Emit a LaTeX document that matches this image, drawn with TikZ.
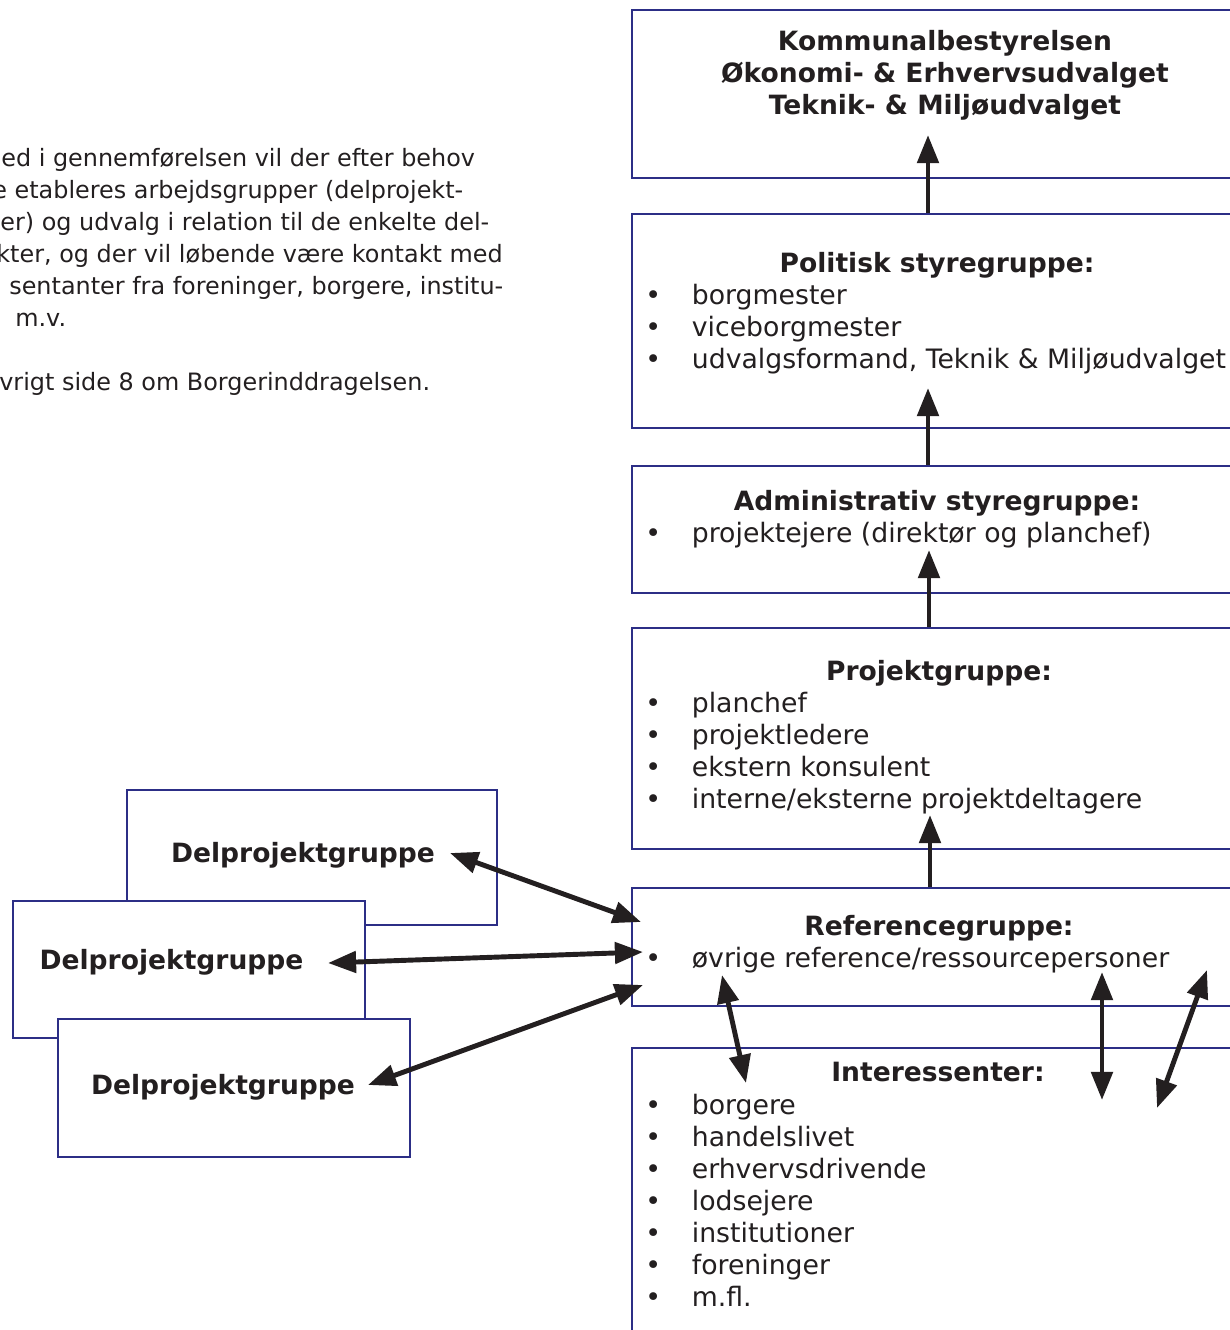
\documentclass[tikz,border=0pt]{standalone}
\usepackage{fontspec}
\setmainfont{DejaVu Sans}
\usetikzlibrary{arrows.meta}
\definecolor{ink}{RGB}{35,31,32}
\definecolor{boxblue}{RGB}{44,46,134}

\begin{document}
\begin{tikzpicture}[
    panel/.style={draw=boxblue,line width=1.3pt,fill=white,anchor=center,inner sep=0pt},
    heading/.style={anchor=base,inner sep=0pt,text=ink,font=\fontsize{15.1}{18}\selectfont\bfseries},
    entry/.style={anchor=base west,inner sep=0pt,text=ink,font=\fontsize{15.2}{18}\selectfont,
      execute at begin node={\makebox[0.93cm][l]{•}}},
    para/.style={anchor=base west,inner sep=0pt,text=ink,font=\fontsize{13.6}{16}\selectfont},
    link/.style={-{Triangle[length=16pt,width=12pt]},line width=2.8pt,ink},
    twoway/.style={{Triangle[length=16pt,width=12pt]}-{Triangle[length=16pt,width=12pt]},line width=2.8pt,ink},
]
\useasboundingbox (0,0) rectangle (24.58,-26.6);

\node[para] (par1) at (0.02,-3.33) {ed i gennemførelsen vil der efter behov};
\node[para] (par2) at (-0.16,-3.97) {e etableres arbejdsgrupper (delprojekt-};
\node[para] (par3) at (0.00,-4.61) {er) og udvalg i relation til de enkelte del-};
\node[para] (par4) at (-0.08,-5.25) {kter, og der vil løbende være kontakt med};
\node[para] (par5) at (0.18,-5.89) {sentanter fra foreninger, borgere, institu-};
\node[para] (par6) at (0.30,-6.53) {m.v.};
\node[para] (par7) at (-0.02,-7.81) {vrigt side 8 om Borgerinddragelsen.};

\node[panel,minimum width=12.24cm,minimum height=3.36cm] (kommune)     at (18.76,-1.88) {};
\node[panel,minimum width=12.24cm,minimum height=4.28cm] (politisk)    at (18.76,-6.42) {};
\node[panel,minimum width=12.24cm,minimum height=2.54cm] (admin)       at (18.76,-10.59) {};
\node[panel,minimum width=12.24cm,minimum height=4.42cm] (projekt)     at (18.76,-14.77) {};
\node[panel,minimum width=12.24cm,minimum height=2.36cm] (reference)   at (18.76,-18.94) {};
\node[panel,minimum width=12.24cm,minimum height=6.08cm] (interessent) at (18.76,-24.00) {};

\node[heading] (kommune-t1) at (18.9,-1.01) {Kommunalbestyrelsen};
\node[heading] (kommune-t2) at (18.9,-1.65) {Økonomi- \& Erhvervsudvalget};
\node[heading] (kommune-t3) at (18.9,-2.29) {Teknik- \& Miljøudvalget};

\node[heading] (politisk-t) at (18.74,-5.45) {Politisk styregruppe:};
\foreach \t [count=\i] in {borgmester,viceborgmester,{udvalgsformand, Teknik \& Miljøudvalget}}
  \node[entry] (politisk-\i) at (12.9,{-5.45-0.64*\i}) {\t};

\node[heading] (admin-t) at (18.74,-10.21) {Administrativ styregruppe:};
\node[entry] (admin-1) at (12.9,-10.85) {projektejere (direktør og planchef)};

\node[heading] (projekt-t) at (18.78,-13.61) {Projektgruppe:};
\foreach \t [count=\i] in {planchef,projektledere,ekstern konsulent,interne/eksterne projektdeltagere}
  \node[entry] (projekt-\i) at (12.9,{-13.61-0.64*\i}) {\t};

\node[heading] (reference-t) at (18.78,-18.71) {Referencegruppe:};
\node[entry] (reference-1) at (12.9,-19.35) {øvrige reference/ressourcepersoner};

\node[heading] (interessent-t) at (18.76,-21.63) {Interessenter:};
\foreach \t [count=\i] in {borgere,handelslivet,erhvervsdrivende,lodsejere,institutioner,foreninger,m.fl.}
  \node[entry] (interessent-\i) at (12.9,{-21.65-0.64*\i}) {\t};

\node[panel,minimum width=7.40cm,minimum height=2.70cm] (delA) at (6.24,-17.15) {};
\node[heading] (delA-t) at (6.06,-17.25) {Delprojektgruppe};
\node[panel,minimum width=7.04cm,minimum height=2.74cm] (delB) at (3.78,-19.39) {};
\node[heading] (delB-t) at (3.43,-19.39) {Delprojektgruppe};
\node[panel,minimum width=7.04cm,minimum height=2.76cm] (delC) at (4.68,-21.76) {};
\node[heading] (delC-t) at (4.46,-21.89) {Delprojektgruppe};

\coordinate (kommune-in) at (18.56,-2.70);
\coordinate (politisk-in) at (18.56,-7.76);
\coordinate (admin-in) at (18.58,-11.00);
\coordinate (projekt-in) at (18.60,-16.30);
\foreach \i/\j in {politisk/kommune,admin/politisk,projekt/admin,reference/projekt}
  \draw[link] (\i.north -| \j-in) -- (\j-in);

\coordinate (delA-out) at (9.00,-17.06);
\coordinate (delB-out) at (6.56,-19.26);
\coordinate (delC-out) at (7.36,-21.70);
\coordinate (refA-in) at (12.82,-18.44);
\coordinate (refB-in) at (12.86,-19.04);
\coordinate (refC-in) at (12.86,-19.70);
\foreach \i/\j in {delA-out/refA-in,delB-out/refB-in,delC-out/refC-in}
  \draw[twoway] (\i) -- (\j);

\coordinate (ref1) at (14.44,-19.50);
\coordinate (ref2) at (22.04,-19.44);
\coordinate (ref3) at (24.14,-19.40);
\coordinate (int1) at (14.92,-21.66);
\coordinate (int2) at (22.04,-22.00);
\coordinate (int3) at (23.14,-22.16);
\foreach \i/\j in {ref1/int1,ref2/int2,ref3/int3}
  \draw[twoway] (\i) -- (\j);
\end{tikzpicture}
\end{document}
